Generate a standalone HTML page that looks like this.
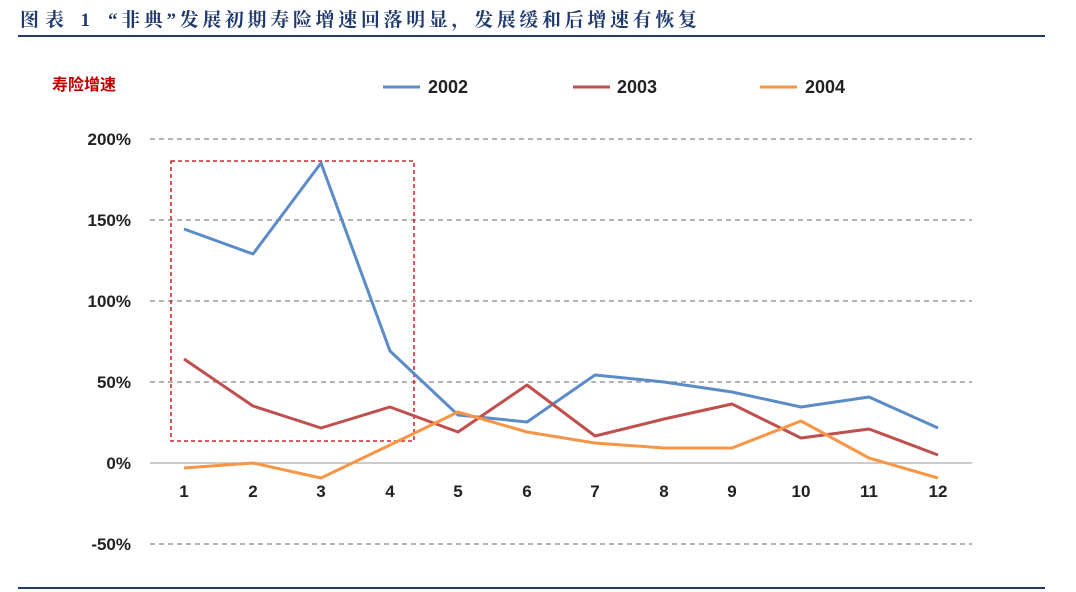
<!DOCTYPE html>
<html><head><meta charset="utf-8"><style>
body{margin:0;background:#fff;}
svg{display:block;}
</style></head><body>
<svg width="1076" height="592" xmlns="http://www.w3.org/2000/svg">
<g font-family="'Liberation Serif','Noto Serif CJK SC',serif" font-size="19" font-weight="bold" fill="#1f3a6e">
<text x="20" y="26" textLength="70" lengthAdjust="spacing">图表 1</text>
<text x="108" y="26" textLength="589" lengthAdjust="spacing">“非典”发展初期寿险增速回落明显，发展缓和后增速有恢复</text>
</g>
<rect x="18" y="35" width="1027" height="2" fill="#1f3a6e"/>
<rect x="18" y="587" width="1027" height="2" fill="#1f3a6e"/>
<text x="52" y="90" font-family="'Liberation Sans','Noto Sans CJK SC',sans-serif" font-size="16" font-weight="bold" fill="#c00000">寿险增速</text>
<g font-family="'Liberation Sans',sans-serif" font-size="18" font-weight="bold" fill="#222">
<line x1="383" y1="87" x2="420" y2="87" stroke="#5b8cc8" stroke-width="3"/><text x="428" y="93">2002</text>
<line x1="573" y1="87" x2="610" y2="87" stroke="#c0504d" stroke-width="3"/><text x="617" y="93">2003</text>
<line x1="760" y1="87" x2="797" y2="87" stroke="#f79646" stroke-width="3"/><text x="805" y="93">2004</text>
</g>
<g stroke="#888" stroke-width="1.3" stroke-dasharray="5,4">
<line x1="150" y1="139" x2="972" y2="139"/><line x1="150" y1="220" x2="972" y2="220"/>
<line x1="150" y1="301" x2="972" y2="301"/><line x1="150" y1="382" x2="972" y2="382"/>
<line x1="150" y1="544" x2="972" y2="544"/>
</g>
<line x1="150" y1="463" x2="972" y2="463" stroke="#bbb" stroke-width="1.5"/>
<g font-family="'Liberation Sans',sans-serif" font-size="17" font-weight="bold" fill="#222" text-anchor="end">
<text x="131" y="145">200%</text><text x="131" y="226">150%</text><text x="131" y="307">100%</text>
<text x="131" y="388">50%</text><text x="131" y="469">0%</text><text x="131" y="550">-50%</text>
</g>
<g font-family="'Liberation Sans',sans-serif" font-size="17" font-weight="bold" fill="#222" text-anchor="middle">
<text x="184" y="497">1</text><text x="253" y="497">2</text><text x="321" y="497">3</text><text x="390" y="497">4</text>
<text x="458" y="497">5</text><text x="527" y="497">6</text><text x="595" y="497">7</text><text x="664" y="497">8</text>
<text x="732" y="497">9</text><text x="801" y="497">10</text><text x="869" y="497">11</text><text x="938" y="497">12</text>
</g>
<rect x="171" y="161" width="243" height="280" fill="none" stroke="#c00000" stroke-width="1.3" stroke-dasharray="4,3"/>
<g fill="none" stroke-width="3" stroke-linejoin="round">
<polyline stroke="#5b8cc8" points="184,229 253,254 321,163 390,351 458,415 527,422 595,375 664,382 732,392 801,407 869,397 938,428"/>
<polyline stroke="#c0504d" points="184,359 253,406 321,428 390,407 458,432 527,385 595,436 664,419 732,404 801,438 869,429 938,455"/>
<polyline stroke="#f79646" points="184,468 253,463 321,478 390,445 458,412 527,432 595,443 664,448 732,448 801,421 869,458 938,478"/>
</g>
</svg>
</body></html>
